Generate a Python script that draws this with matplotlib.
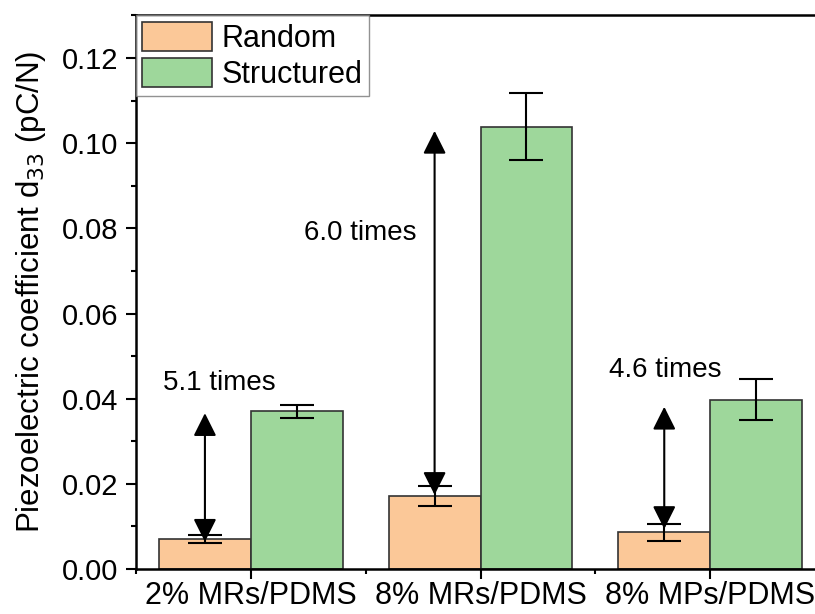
import matplotlib
matplotlib.use("Agg")
import matplotlib.pyplot as plt
import numpy as np
from matplotlib.patches import FancyArrowPatch
from matplotlib.ticker import MultipleLocator, FixedLocator, FormatStrFormatter

plt.rcParams['font.family'] = ['Liberation Sans', 'DejaVu Sans']

# data
groups = ["2% MRs/PDMS", "8% MRs/PDMS", "8% MPs/PDMS"]
random_vals = [0.0071, 0.0172, 0.0086]
random_err = [0.0009, 0.0023, 0.0020]
struct_vals = [0.0370, 0.1039, 0.0398]
struct_err = [0.0016, 0.0078, 0.0048]

# ratio arrows (bottom tip, top tip) and their labels
arrow_low = [0.0064, 0.0174, 0.0094]
arrow_high = [0.0366, 0.1029, 0.0381]
ratio_labels = ["5.1 times", "6.0 times", "4.6 times"]
label_x = [-0.136, 0.475, 1.804]
label_y = [0.0437, 0.0789, 0.0467]

x = np.arange(len(groups))
w = 0.4

fig = plt.figure(figsize=(8.15, 6.14), dpi=100)
ax = fig.add_axes([0.1669, 0.0733, 0.8454, 0.9015])

ax.bar(x - w / 2, random_vals, w, color="#FBC898", edgecolor="#333333",
       linewidth=1.2, label="Random", zorder=2)
ax.bar(x + w / 2, struct_vals, w, color="#9ED79B", edgecolor="#333333",
       linewidth=1.2, label="Structured", zorder=2)
ax.errorbar(x - w / 2, random_vals, yerr=random_err, fmt="none", ecolor="black",
            elinewidth=1.5, capsize=12, capthick=1.5, zorder=3)
ax.errorbar(x + w / 2, struct_vals, yerr=struct_err, fmt="none", ecolor="black",
            elinewidth=1.5, capsize=12, capthick=1.5, zorder=3)

# double headed arrows over the random bars
for i in range(len(groups)):
    arr = FancyArrowPatch((x[i] - w / 2, arrow_low[i]), (x[i] - w / 2, arrow_high[i]),
                          arrowstyle="<|-|>,head_length=1.4,head_width=0.7",
                          mutation_scale=10, color="black", linewidth=1.5,
                          shrinkA=0, shrinkB=0, zorder=4)
    ax.add_patch(arr)
    ax.text(label_x[i], label_y[i], ratio_labels[i], fontsize=20,
            ha="center", va="center")

ax.set_xlim(-0.5, 2.5)
ax.set_ylim(0, 0.13)
ax.set_xticks(x)
ax.set_xticklabels(groups, fontsize=22)
ax.xaxis.set_minor_locator(FixedLocator([-0.5, 0.5, 1.5, 2.5]))
ax.yaxis.set_major_locator(MultipleLocator(0.02))
ax.yaxis.set_minor_locator(MultipleLocator(0.01))
ax.yaxis.set_major_formatter(FormatStrFormatter("%.2f"))
ax.tick_params(axis="y", labelsize=21, pad=6)
ax.tick_params(which="major", length=7, width=1.5, direction="out")
ax.tick_params(which="minor", length=3.5, width=1.5, direction="out")
ax.tick_params(axis="x", pad=2)
for s in ax.spines.values():
    s.set_linewidth(1.8)

ax.set_ylabel("Piezoelectric coefficient d$_{33}$ (pC/N)", fontsize=22.5, labelpad=10)

leg = ax.legend(loc="upper left", fontsize=22, frameon=True, fancybox=False,
                borderaxespad=0, borderpad=0.2, handlelength=2.3, handleheight=1.1,
                handletextpad=0.3, labelspacing=0.13)
leg.get_frame().set_edgecolor("#777777")
leg.get_frame().set_linewidth(1.0)

fig.savefig("out.png", dpi=100)
